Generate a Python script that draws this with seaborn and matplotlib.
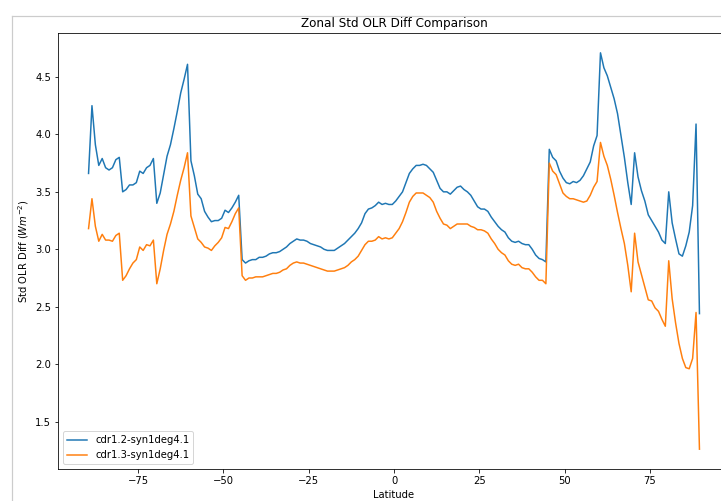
import numpy as np
import pandas as pd
import matplotlib
matplotlib.use("Agg")
import matplotlib.pyplot as plt
from matplotlib.lines import Line2D
import seaborn as sns

latitude = np.arange(-89.5, 90.0, 1.0)

cdr12_syn = [
    3.66, 4.25, 3.91, 3.73, 3.79, 3.71, 3.69, 3.71, 3.78, 3.80,
    3.50, 3.52, 3.56, 3.56, 3.58, 3.68, 3.66, 3.71, 3.73, 3.79,
    3.40, 3.49, 3.65, 3.81, 3.91, 4.05, 4.20, 4.36, 4.48, 4.61,
    3.77, 3.64, 3.48, 3.44, 3.33, 3.28, 3.24, 3.25, 3.25, 3.27,
    3.34, 3.32, 3.36, 3.41, 3.47, 2.91, 2.88, 2.90, 2.91, 2.91,
    2.93, 2.93, 2.94, 2.96, 2.97, 2.97, 2.98, 3.00, 3.02, 3.05,
    3.07, 3.09, 3.08, 3.08, 3.07, 3.05, 3.04, 3.03, 3.02, 3.00,
    2.99, 2.99, 2.99, 3.01, 3.03, 3.05, 3.08, 3.11, 3.14, 3.18,
    3.23, 3.31, 3.35, 3.36, 3.38, 3.41, 3.39, 3.40, 3.39, 3.39,
    3.42, 3.46, 3.50, 3.58, 3.66, 3.70, 3.73, 3.73, 3.74, 3.73,
    3.70, 3.67, 3.60, 3.53, 3.50, 3.50, 3.48, 3.51, 3.54, 3.55,
    3.52, 3.50, 3.47, 3.42, 3.37, 3.35, 3.35, 3.33, 3.28, 3.24,
    3.20, 3.17, 3.15, 3.10, 3.07, 3.06, 3.07, 3.05, 3.04, 3.04,
    3.00, 2.95, 2.92, 2.91, 2.89, 3.87, 3.80, 3.77, 3.68, 3.62,
    3.58, 3.57, 3.59, 3.58, 3.60, 3.64, 3.70, 3.76, 3.90, 3.99,
    4.71, 4.58, 4.51, 4.41, 4.31, 4.18, 3.99, 3.80, 3.58, 3.39,
    3.84, 3.63, 3.51, 3.42, 3.30, 3.25, 3.20, 3.15, 3.08, 3.05,
    3.50, 3.23, 3.09, 2.96, 2.94, 3.03, 3.15, 3.38, 4.09, 2.44,
]

cdr13_syn = [
    3.18, 3.44, 3.20, 3.07, 3.13, 3.08, 3.08, 3.07, 3.12, 3.14,
    2.73, 2.77, 2.83, 2.88, 2.91, 3.02, 2.99, 3.04, 3.03, 3.08,
    2.70, 2.83, 2.99, 3.13, 3.22, 3.33, 3.47, 3.60, 3.71, 3.84,
    3.29, 3.19, 3.09, 3.06, 3.02, 3.01, 2.99, 3.03, 3.06, 3.10,
    3.19, 3.18, 3.24, 3.31, 3.36, 2.77, 2.73, 2.75, 2.75, 2.76,
    2.76, 2.76, 2.77, 2.78, 2.79, 2.79, 2.80, 2.82, 2.83, 2.86,
    2.88, 2.89, 2.88, 2.88, 2.87, 2.86, 2.85, 2.84, 2.83, 2.82,
    2.81, 2.81, 2.81, 2.82, 2.83, 2.84, 2.86, 2.89, 2.91, 2.94,
    2.99, 3.04, 3.07, 3.07, 3.08, 3.11, 3.09, 3.10, 3.09, 3.10,
    3.14, 3.18, 3.24, 3.32, 3.41, 3.46, 3.49, 3.49, 3.49, 3.47,
    3.45, 3.41, 3.33, 3.27, 3.22, 3.21, 3.18, 3.20, 3.22, 3.22,
    3.22, 3.22, 3.20, 3.19, 3.17, 3.17, 3.16, 3.14, 3.09, 3.05,
    3.00, 2.97, 2.95, 2.90, 2.87, 2.86, 2.87, 2.84, 2.83, 2.83,
    2.80, 2.76, 2.73, 2.73, 2.70, 3.75, 3.68, 3.65, 3.57, 3.49,
    3.46, 3.44, 3.44, 3.43, 3.42, 3.41, 3.42, 3.47, 3.54, 3.59,
    3.93, 3.81, 3.73, 3.61, 3.47, 3.32, 3.18, 3.05, 2.86, 2.63,
    3.14, 2.89, 2.78, 2.67, 2.56, 2.55, 2.49, 2.46, 2.39, 2.33,
    2.90, 2.57, 2.36, 2.18, 2.05, 1.97, 1.96, 2.05, 2.45, 1.26,
]

series_labels = ["cdr1.2-syn1deg4.1", "cdr1.3-syn1deg4.1"]
series_colors = ["#1f77b4", "#ff7f0e"]

W, H, DPI = 721, 501, 72
fig = plt.figure(figsize=(W / DPI, H / DPI), dpi=DPI)
ax = fig.add_axes([58 / W, (H - 469) / H, (730 - 58) / W, (469 - 33) / H])

for vals, lab, col in zip([cdr12_syn, cdr13_syn], series_labels, series_colors):
    df = pd.DataFrame({"Latitude": latitude, "value": vals})
    sns.lineplot(data=df, x="Latitude", y="value", color=col, label=lab,
                 ax=ax, linewidth=1.5)

ax.set_title("Zonal Std OLR Diff Comparison", fontsize=12)
ax.set_xlabel("Latitude", fontsize=10)
ax.set_ylabel(r"Std OLR Diff ($Wm^{-2}$)", fontsize=10)
ax.set_xticks([-75, -50, -25, 0, 25, 50, 75])
ax.set_yticks([1.5, 2.0, 2.5, 3.0, 3.5, 4.0, 4.5])
ax.legend(loc="lower left", fontsize=10)

# light frame lines (notebook output border)
fig.add_artist(Line2D([11.5 / W, 11.5 / W], [0, (H - 16) / H], color="#cccccc", lw=1.2,
                      transform=fig.transFigure))
fig.add_artist(Line2D([11.5 / W, 1.0], [(H - 16) / H, (H - 16) / H], color="#cccccc", lw=1.2,
                      transform=fig.transFigure))

fig.savefig("out.png", dpi=DPI)
